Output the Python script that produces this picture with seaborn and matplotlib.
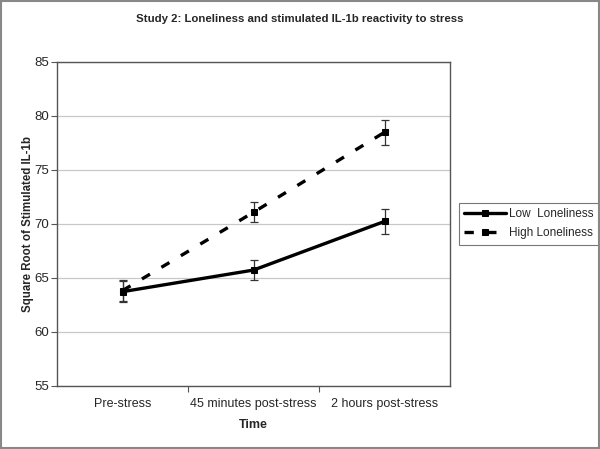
import numpy as np
import pandas as pd
import matplotlib
matplotlib.use("Agg")
import matplotlib.pyplot as plt
import seaborn as sns

TIMES = ["Pre-stress", "45 minutes post-stress", "2 hours post-stress"]
GROUPS = ["Low  Loneliness", "High Loneliness"]
LOW_MEAN = [63.7, 65.7, 70.2]
LOW_ERR = [1.0, 0.95, 1.15]
HIGH_MEAN = [63.8, 71.05, 78.45]
HIGH_ERR = [1.0, 0.93, 1.15]

df = pd.DataFrame({
    "time": list(range(3)) * 2,
    "value": LOW_MEAN + HIGH_MEAN,
    "err": LOW_ERR + HIGH_ERR,
    "group": [GROUPS[0]] * 3 + [GROUPS[1]] * 3,
})

sns.set_style("white")
plt.rcParams["font.family"] = ["Liberation Sans", "DejaVu Sans"]

fig = plt.figure(figsize=(6, 4.49), dpi=100)
ax = fig.add_axes([0.095, 0.141, 0.655, 0.722])

sns.lineplot(data=df, x="time", y="value", hue="group", style="group",
             palette=["black", "black"], dashes={GROUPS[0]: "", GROUPS[1]: (2.8, 4.0)},
             markers={GROUPS[0]: "s", GROUPS[1]: "s"}, markersize=4.8,
             markeredgecolor="black", linewidth=2.4, ax=ax, legend=True)

# error bars drawn on top of the seaborn lines
for g, sub in df.groupby("group"):
    ax.errorbar(sub["time"], sub["value"], yerr=sub["err"], fmt="none",
                ecolor="#333333", elinewidth=0.9, capsize=3, capthick=0.9, zorder=1)

ax.set_xlim(-0.5, 2.5)
ax.set_ylim(55, 85)
ax.set_yticks(np.arange(55, 86, 5))
ax.yaxis.grid(True, color="#c8c8c8", linewidth=0.9)
ax.set_xticks([0.5, 1.5])
ax.set_xticklabels([])
ax.set_xticks(range(3), minor=True)
ax.set_xticklabels(TIMES, minor=True, fontsize=9)
ax.tick_params(axis="x", which="major", length=4, direction="out", color="#555555")
ax.tick_params(axis="x", which="minor", length=0, pad=9)
ax.tick_params(axis="y", length=4, direction="out", color="#555555", labelsize=9.5, pad=2)
ax.tick_params(bottom=True, left=True)
for s in ax.spines.values():
    s.set_color("#555555")
    s.set_linewidth(1)

ax.set_xlabel("Time", fontsize=9, fontweight="bold", labelpad=6)
ax.set_ylabel("Square Root of Stimulated IL-1b", fontsize=8.3, fontweight="bold", labelpad=0)
fig.text(0.5, 0.957, "Study 2: Loneliness and stimulated IL-1b reactivity to stress",
         fontsize=8.2, fontweight="bold", ha="center", va="center")

leg = ax.legend(loc="upper left", bbox_to_anchor=(1.022, 0.564), frameon=True,
                fontsize=8.5, handlelength=3.6, borderpad=0.45, labelspacing=0.6,
                handletextpad=0.2, fancybox=False, borderaxespad=0)
leg.get_frame().set_edgecolor("#555555")
leg.get_frame().set_linewidth(0.8)

fig.patches.append(plt.Rectangle((0.002, 0.002), 0.996, 0.996, transform=fig.transFigure,
                                 fill=False, edgecolor="#888888", linewidth=1.5))

fig.savefig("out.png", dpi=100)
